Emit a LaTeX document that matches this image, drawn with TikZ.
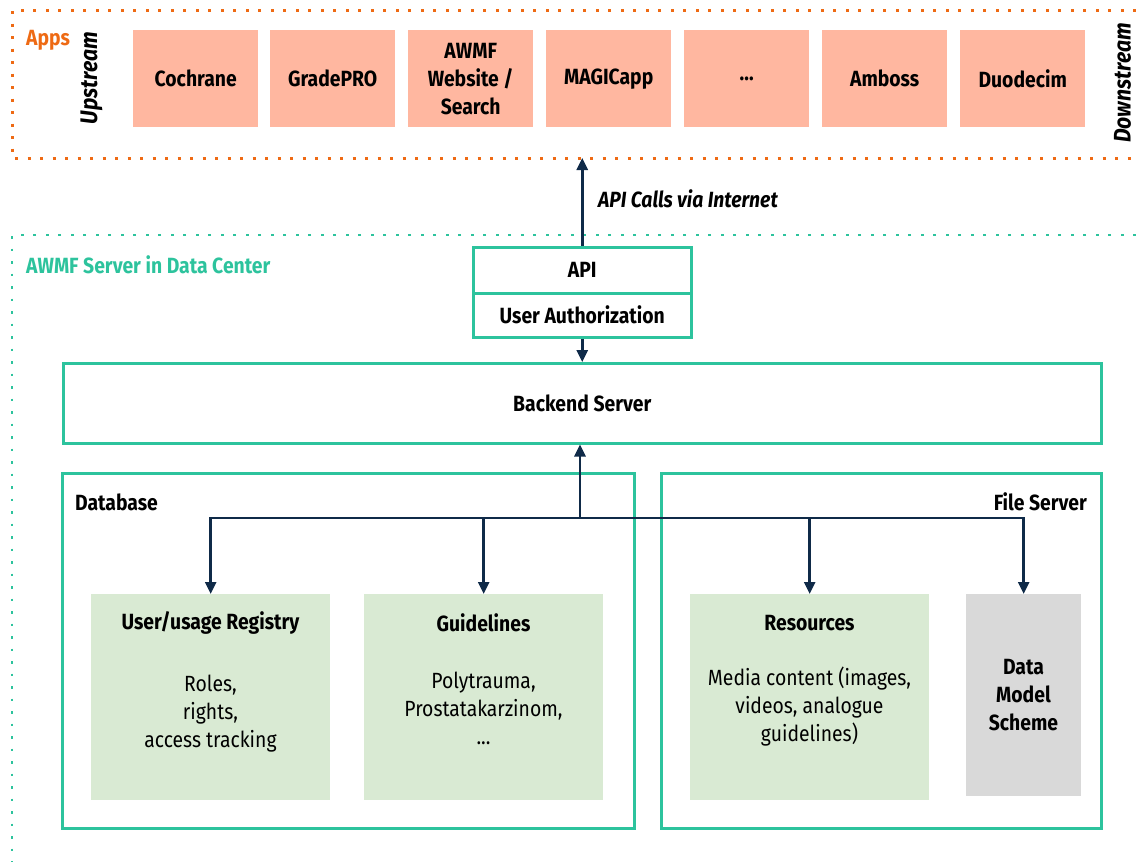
\documentclass[tikz,border=0pt]{standalone}
\usepackage{fontspec}
\setmainfont{Fira Sans}[FakeStretch=0.88]
\usetikzlibrary{arrows.meta}
\definecolor{appsorange}{HTML}{EE6A14}
\definecolor{srvgreen}{HTML}{2DC39D}
\definecolor{salmon}{HTML}{FFB7A0}
\definecolor{lightgreen}{HTML}{D9EAD3}
\definecolor{lightgray}{HTML}{D9D9D9}
\definecolor{navy}{HTML}{0F2A48}
\begin{document}
\begin{tikzpicture}[x=1pt,y=-1pt,
  txt/.style={font=\fontsize{22}{28}\selectfont, align=center, inner sep=0pt},
  ttl/.style={font=\fontsize{22}{28}\selectfont\bfseries, align=center, inner sep=0pt},
  itl/.style={font=\fontsize{22}{28}\selectfont\bfseries\itshape, inner sep=0pt},
  sidel/.style={font=\fontsize{24}{28}\selectfont\bfseries\itshape, inner sep=0pt, rotate=90},
  app/.style={ttl, fill=salmon, minimum width=125pt, minimum height=97pt, anchor=north west},
  gbox/.style={draw=srvgreen, line width=2.5pt, anchor=north west},
  inner/.style={anchor=north west, inner sep=0pt},
  arr/.style={draw=navy, line width=2.6pt, -{Triangle[length=12pt,width=11pt]}},
  odots/.style={draw=appsorange, line width=3pt, dash pattern=on 3pt off 9.5pt},
  gdots/.style={draw=srvgreen, line width=2.8pt, dash pattern=on 2.8pt off 9.7pt}
]
\useasboundingbox (0,0) rectangle (1136,862);
% frames
\draw[odots] (1136,10) -- (12,10) -- (12,158) -- (1136,158);
\draw[gdots] (1136,235) -- (12,235) -- (12,862);
% apps
\node[ttl, anchor=west, text=appsorange] (apps) at (26,40) {Apps};
\node[sidel] (upstream) at (91.5,78) {Upstream};
\node[sidel] (downstream) at (1122.5,83) {Downstream};
\node[app] (cochrane) at (133,30) {Cochrane};
\node[app] (gradepro) at (270,30) {GradePRO};
\node[app] (awmfweb) at (408,30) {AWMF\\Website /\\Search};
\node[app] (magic) at (546,30) {MAGICapp};
\node[app] (dots) at (684,30) {...};
\node[app] (amboss) at (822,30) {Amboss};
\node[app] (duodecim) at (960,30) {Duodecim};
\coordinate (appsedge) at (580,158);
% server
\node[ttl, anchor=west, text=srvgreen] (srvlbl) at (26,265) {AWMF Server in Data Center};
\node[gbox, ttl, minimum width=218pt, minimum height=46pt] (api) at (472,246) {API};
\node[gbox, ttl, minimum width=218pt, minimum height=44pt] (auth) at (472,292) {User Authorization};
\node[itl, anchor=west] (apicalls) at (598,199) {API Calls via Internet};
\node[gbox, ttl, minimum width=1038pt, minimum height=80pt] (backend) at (62,362) {Backend Server};
\node[gbox, minimum width=572pt, minimum height=355pt] (database) at (61,472) {};
\node[gbox, minimum width=440pt, minimum height=355pt] (fileserver) at (660,472) {};
\node[ttl, anchor=west] (dblbl) at (75,502) {Database};
\node[ttl, anchor=east] (fslbl) at (1087,502) {File Server};
% inner boxes
\node[inner, fill=lightgreen, minimum width=239pt, minimum height=206pt] (reg) at (91,594) {};
\node[inner, fill=lightgreen, minimum width=239pt, minimum height=206pt] (guide) at (364,594) {};
\node[inner, fill=lightgreen, minimum width=239pt, minimum height=206pt] (res) at (690,594) {};
\node[inner, fill=lightgray, minimum width=115pt, minimum height=202pt] (dms) at (966,594) {};
\node[ttl] (regt) at (210.5,623) {User/usage Registry};
\node[txt] (regb) at (210.5,714) {Roles,\\rights,\\access tracking};
\node[ttl] (guidet) at (483.5,623) {Guidelines};
\node[txt] (guideb) at (483.5,708) {Polytrauma,\\Prostatakarzinom,\\...};
\node[ttl] (rest) at (809.5,623) {Resources};
\node[txt] (resb) at (809.5,707) {Media content (images,\\videos, analogue\\guidelines)};
\node[ttl] (dmst) at (1023.5,695) {Data\\Model\\Scheme};
% connectors
\coordinate (hub) at (580,518);
\draw[arr] (api.north) -- (api.north |- appsedge);
\draw[arr] (auth.south) -- (auth.south |- backend.north);
\draw[arr] (hub) -- (hub |- backend.south);
\draw[arr] (hub) -| (reg.north);
\draw[arr] (hub) -| (guide.north);
\draw[arr] (hub) -| (res.north);
\draw[arr] (hub) -| (dms.north);
\end{tikzpicture}
\end{document}
